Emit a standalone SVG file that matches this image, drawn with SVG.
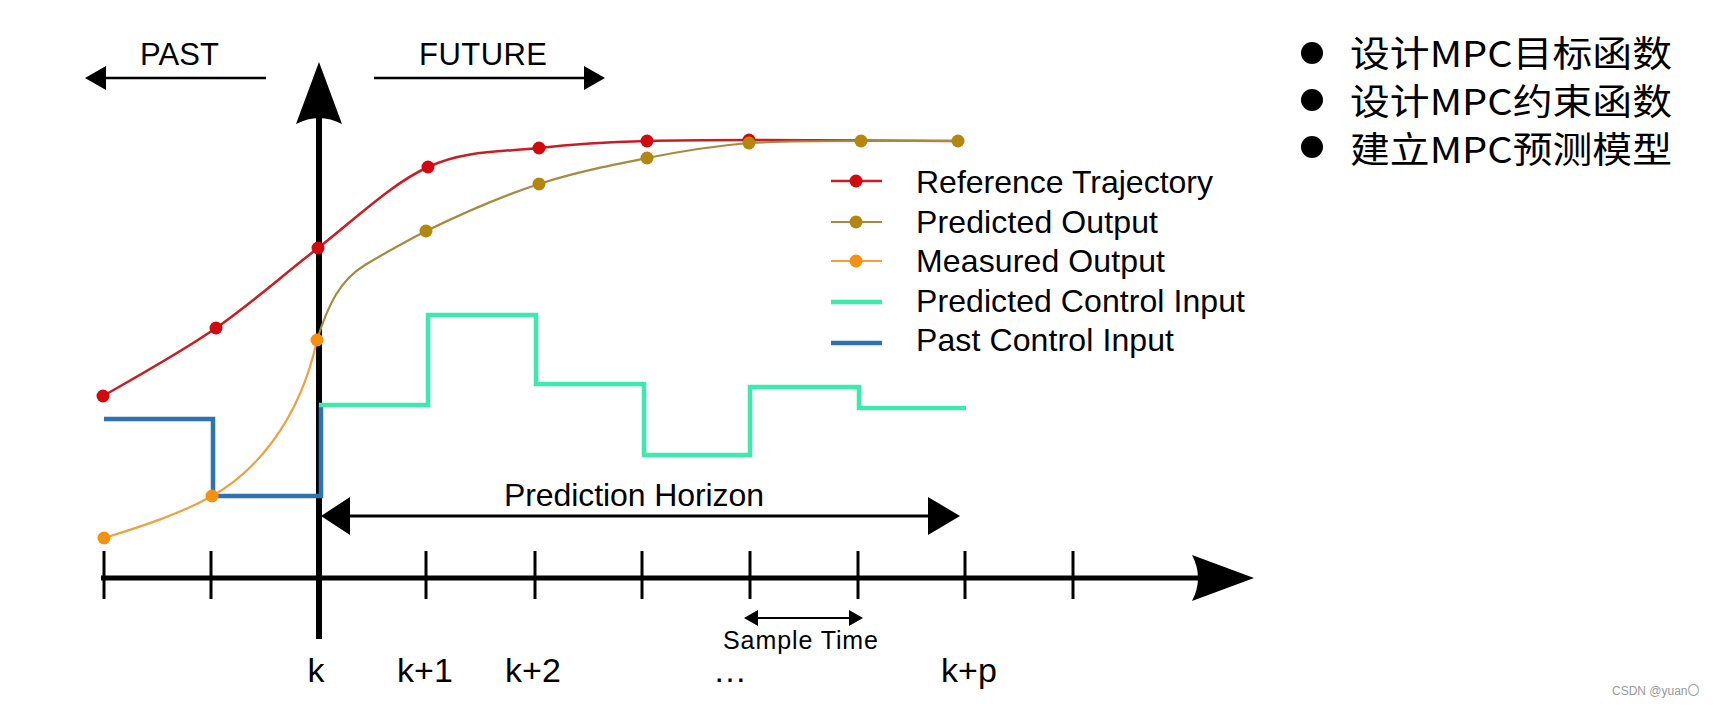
<svg xmlns="http://www.w3.org/2000/svg" width="1714" height="707" viewBox="0 0 1714 707">
<style>
.t{font-family:"Liberation Sans",Arial,sans-serif;fill:#000}
.cjk{font-family:"Noto Sans CJK SC","Noto Sans",sans-serif;fill:#000;font-size:36px}
.ax{stroke:#000;fill:none}
.red{stroke:#c81e23;fill:none;stroke-width:2.5}
.olive{stroke:#a88a3e;fill:none;stroke-width:2.2}
.orange{stroke:#f0a040;fill:none;stroke-width:2.2}
.teal{stroke:#3deaae;fill:none;stroke-width:4.5}
.blue{stroke:#2e72b0;fill:none;stroke-width:4.5}
.rd{fill:#d10a0f}
.od{fill:#b3860f}
.md{fill:#f7900e}
</style>
<rect width="1714" height="707" fill="#fff"/>

<g id="axes">
  <line class="ax" x1="319" y1="639" x2="319" y2="118" stroke-width="6"/>
  <path d="M319,62 L342,124 Q319,112 296,124 Z" fill="#000"/>
  <line class="ax" x1="101" y1="578" x2="1200" y2="578" stroke-width="5"/>
  <path d="M1254,578 L1192,555 Q1204,578 1192,601 Z" fill="#000"/>
  <g class="ax" stroke-width="3">
    <line x1="104" y1="551" x2="104" y2="599"/>
    <line x1="211" y1="551" x2="211" y2="599"/>
    <line x1="319" y1="551" x2="319" y2="599"/>
    <line x1="426" y1="551" x2="426" y2="599"/>
    <line x1="535" y1="551" x2="535" y2="599"/>
    <line x1="642" y1="551" x2="642" y2="599"/>
    <line x1="750" y1="551" x2="750" y2="599"/>
    <line x1="858" y1="551" x2="858" y2="599"/>
    <line x1="965" y1="551" x2="965" y2="599"/>
    <line x1="1073" y1="551" x2="1073" y2="599"/>
  </g>
</g>

<g id="past-future">
  <line class="ax" x1="104" y1="78" x2="266" y2="78" stroke-width="2.5"/>
  <path d="M85,78 L106,66 L106,90 Z" fill="#000"/>
  <text class="t" x="140" y="65" font-size="31" textLength="79">PAST</text>
  <line class="ax" x1="374" y1="78" x2="586" y2="78" stroke-width="2.5"/>
  <path d="M605,78 L584,66 L584,90 Z" fill="#000"/>
  <text class="t" x="419" y="65" font-size="31" textLength="128">FUTURE</text>
</g>

<g id="control-inputs">
  <path class="blue" d="M104,419 H213 V496 H321 V404"/>
  <path class="teal" d="M319,405 H428 V315 H536 V384 H644 V455 H750 V387 H859 V408 H966"/>
</g>

<g id="curves">
  <path class="red" d="M103,396 C122,385 180,353 216,328 C252,303 283,275 318,248 C353,221 391,184 428,167 C465,150 502,152 539,148 C575,144 612,142 647,141 C682,140 732,140 749,140 L958,141"/>
  <path class="olive" d="M317,340 C328,305 340,280 365,265 C385,253 405,242 426,231 C455,217 502,196 539,184 C576,172 612,165 647,158 C682,151 713,146 749,143 C785,141 826,141 861,141 L958,141"/>
  <path class="orange" d="M104,538 C140,527 180,514 212,496 C252,474 299,424 317,340"/>
</g>

<g id="points">
  <circle class="rd" cx="103" cy="396" r="6.5"/>
  <circle class="rd" cx="216" cy="328" r="6.5"/>
  <circle class="rd" cx="318" cy="248" r="6.5"/>
  <circle class="rd" cx="428" cy="167" r="6.5"/>
  <circle class="rd" cx="539" cy="148" r="6.5"/>
  <circle class="rd" cx="647" cy="141" r="6.5"/>
  <circle class="rd" cx="749" cy="140" r="6.5"/>
  <circle class="od" cx="426" cy="231" r="6.5"/>
  <circle class="od" cx="539" cy="184" r="6.5"/>
  <circle class="od" cx="647" cy="158" r="6.5"/>
  <circle class="od" cx="749" cy="143" r="6.5"/>
  <circle class="od" cx="861" cy="141" r="6.5"/>
  <circle class="od" cx="958" cy="141" r="6.5"/>
  <circle class="md" cx="104" cy="538" r="6.5"/>
  <circle class="md" cx="212" cy="496" r="6.5"/>
  <circle class="md" cx="317" cy="340" r="6.5"/>
</g>

<g id="legend">
  <line class="red" x1="831" y1="181" x2="882" y2="181" stroke-width="3"/>
  <circle class="rd" cx="856" cy="181" r="6.5"/>
  <text class="t" x="916" y="193" font-size="32" textLength="297">Reference Trajectory</text>
  <line class="olive" x1="831" y1="222" x2="882" y2="222" stroke-width="3"/>
  <circle class="od" cx="856" cy="222" r="6.5"/>
  <text class="t" x="916" y="233" font-size="32" textLength="242">Predicted Output</text>
  <line class="orange" x1="831" y1="261" x2="882" y2="261" stroke-width="3"/>
  <circle class="md" cx="856" cy="261" r="6.5"/>
  <text class="t" x="916" y="272" font-size="32" textLength="249">Measured Output</text>
  <line class="teal" x1="831" y1="302" x2="882" y2="302" stroke-width="3"/>
  <text class="t" x="916" y="312" font-size="32" textLength="329">Predicted Control Input</text>
  <line class="blue" x1="831" y1="343" x2="882" y2="343" stroke-width="3"/>
  <text class="t" x="916" y="351" font-size="32" textLength="258">Past Control Input</text>
</g>

<g id="prediction-horizon">
  <line class="ax" x1="345" y1="516" x2="935" y2="516" stroke-width="3"/>
  <path d="M321,516 L350,497 L350,535 Z" fill="#000"/>
  <path d="M960,516 L928,497 L928,535 Z" fill="#000"/>
  <text class="t" x="504" y="506" font-size="32" textLength="260">Prediction Horizon</text>
</g>

<g id="sample-time">
  <line class="ax" x1="755" y1="618" x2="852" y2="618" stroke-width="2"/>
  <path d="M744,618 L758,610 L758,626 Z" fill="#000"/>
  <path d="M863,618 L849,610 L849,626 Z" fill="#000"/>
  <text class="t" x="723" y="649" font-size="25" textLength="155">Sample Time</text>
</g>

<g id="tick-labels">
  <text class="t" x="316" y="682" font-size="34" text-anchor="middle">k</text>
  <text class="t" x="425" y="682" font-size="34" text-anchor="middle">k+1</text>
  <text class="t" x="533" y="682" font-size="34" text-anchor="middle">k+2</text>
  <text class="t" x="730" y="682" font-size="34" text-anchor="middle">…</text>
  <text class="t" x="969" y="682" font-size="34" text-anchor="middle">k+p</text>
</g>

<g id="bullets">
  <circle cx="1312" cy="53" r="11" fill="#000"/>
  <text class="cjk" x="1350" y="67" textLength="322" lengthAdjust="spacingAndGlyphs">设计MPC目标函数</text>
  <circle cx="1312" cy="100" r="11" fill="#000"/>
  <text class="cjk" x="1350" y="115" textLength="322" lengthAdjust="spacingAndGlyphs">设计MPC约束函数</text>
  <circle cx="1312" cy="147" r="11" fill="#000"/>
  <text class="cjk" x="1350" y="163" textLength="322" lengthAdjust="spacingAndGlyphs">建立MPC预测模型</text>
</g>

<g id="watermark">
  <text x="1612" y="695" font-size="12" fill="#999" font-family="'Liberation Sans','Noto Sans CJK SC',sans-serif">CSDN @yuan〇</text>
</g>
</svg>
